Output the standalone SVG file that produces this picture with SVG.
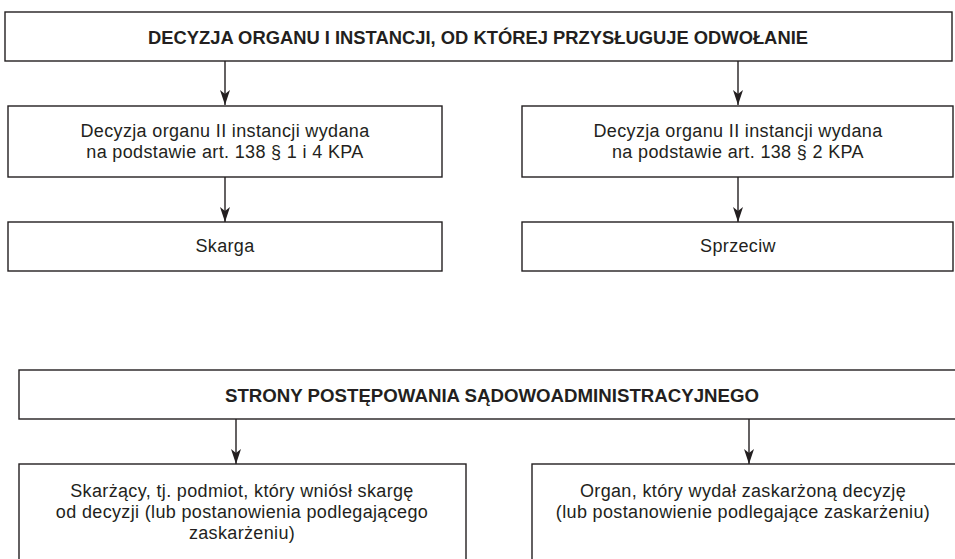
<svg xmlns="http://www.w3.org/2000/svg" width="955" height="559" viewBox="0 0 955 559">
<style>
.box{fill:#fff;stroke:#231f20;stroke-width:1.4}
.t{font-family:"Liberation Sans",Arial,sans-serif;font-size:18px;letter-spacing:0.35px;fill:#231f20;text-anchor:middle}
.b{font-family:"Liberation Sans",Arial,sans-serif;font-size:18px;font-weight:bold;fill:#231f20;text-anchor:middle}
.c{stroke:#231f20;stroke-width:1.4;fill:none;marker-end:url(#ah)}
</style>
<defs>
<marker id="ah" viewBox="0 0 15 10" refX="15" refY="5" markerWidth="15" markerHeight="10" markerUnits="userSpaceOnUse" orient="auto">
<path d="M0,0 L15,5 L0,10 L4,5 Z" fill="#231f20"/>
</marker>
</defs>
<rect width="955" height="559" fill="#fff"/>
<g id="connectors">
<line class="c" x1="225" y1="61" x2="225" y2="105"/>
<line class="c" x1="738" y1="61" x2="738" y2="105"/>
<line class="c" x1="225" y1="177" x2="225" y2="222"/>
<line class="c" x1="738" y1="177" x2="738" y2="222"/>
<line class="c" x1="236" y1="419" x2="236" y2="464"/>
<line class="c" x1="749" y1="419" x2="749" y2="464"/>
</g>
<g id="n1">
<rect class="box" x="5" y="12" width="947" height="49"/>
<text class="b" x="478" y="44" textLength="660" lengthAdjust="spacingAndGlyphs">DECYZJA ORGANU I INSTANCJI, OD KTÓREJ PRZYSŁUGUJE ODWOŁANIE</text>
</g>
<g id="n2">
<rect class="box" x="8" y="106" width="434" height="71"/>
<text class="t" x="225" y="137">Decyzja organu II instancji wydana</text>
<text class="t" x="225" y="158">na podstawie art. 138 § 1 i 4 KPA</text>
</g>
<g id="n3">
<rect class="box" x="522" y="106" width="431" height="71"/>
<text class="t" x="738" y="137">Decyzja organu II instancji wydana</text>
<text class="t" x="738" y="158">na podstawie art. 138 § 2 KPA</text>
</g>
<g id="n4">
<rect class="box" x="8" y="222" width="434" height="49"/>
<text class="t" x="225" y="252">Skarga</text>
</g>
<g id="n5">
<rect class="box" x="522" y="222" width="431" height="49"/>
<text class="t" x="738" y="252">Sprzeciw</text>
</g>
<g id="n6">
<rect class="box" x="19" y="370" width="940" height="49"/>
<text class="b" x="492" y="402" textLength="534" lengthAdjust="spacingAndGlyphs">STRONY POSTĘPOWANIA SĄDOWOADMINISTRACYJNEGO</text>
</g>
<g id="n7">
<rect class="box" x="19" y="464" width="447" height="110"/>
<text class="t" x="242" y="497">Skarżący, tj. podmiot, który wniósł skargę</text>
<text class="t" x="242" y="518">od decyzji (lub postanowienia podlegającego</text>
<text class="t" x="242" y="539">zaskarżeniu)</text>
</g>
<g id="n8">
<rect class="box" x="532" y="464" width="430" height="110"/>
<text class="t" x="743" y="497">Organ, który wydał zaskarżoną decyzję</text>
<text class="t" x="743" y="518">(lub postanowienie podlegające zaskarżeniu)</text>
</g>
</svg>
